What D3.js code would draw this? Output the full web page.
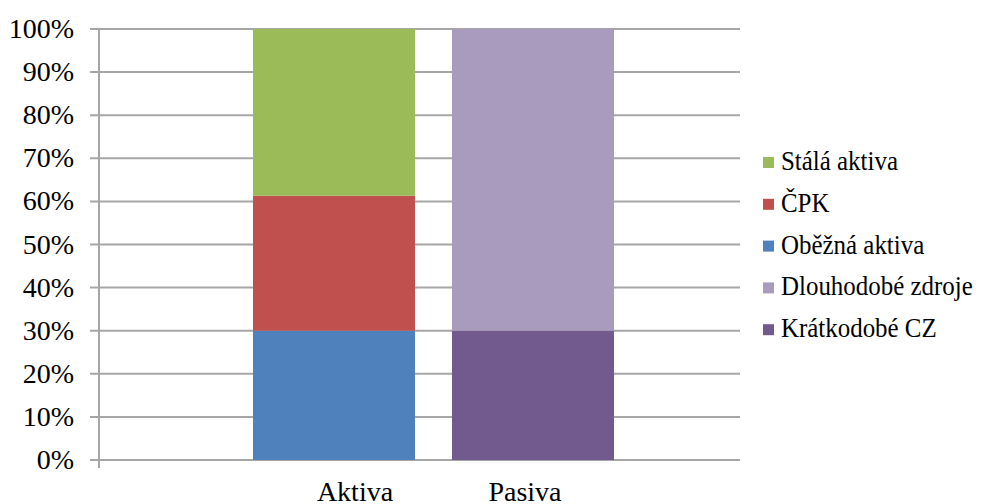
<!DOCTYPE html>
<html>
<head>
<meta charset="utf-8">
<script src="https://cdn.jsdelivr.net/npm/d3@7"></script>
<style>
  body { margin: 0; background: #fff; }
</style>
</head>
<body>
<div id="chart"></div>
<script>
// categories and stacked series (share of the balance, %)
var categories = ["Aktiva", "Pasiva"];
var seriesNames = ["Oběžná aktiva", "ČPK", "Stálá aktiva", "Krátkodobé CZ", "Dlouhodobé zdroje"];
var aktivaValues = [30, 31.3, 38.7, 0, 0];
var pasivaValues = [0, 0, 0, 30, 70];
var seriesColors = ["#4F81BD", "#C0504D", "#9BBB59", "#72598E", "#A99BBE"];
var legendOrder = ["Stálá aktiva", "ČPK", "Oběžná aktiva", "Dlouhodobé zdroje", "Krátkodobé CZ"];
var yTicks = [0, 10, 20, 30, 40, 50, 60, 70, 80, 90, 100];

var fontFamily = "Liberation Serif";

var svgWidth = 982, svgHeight = 504;
var margin = { top: 29, right: 242, bottom: 44, left: 99 };
var width = svgWidth - margin.left - margin.right;
var height = svgHeight - margin.top - margin.bottom;

var svg = d3.select("#chart")
  .append("svg")
  .attr("width", svgWidth)
  .attr("height", svgHeight);

var chartGroup = svg.append("g")
  .attr("transform", `translate(${margin.left}, ${margin.top})`);

// build table for d3.stack
var table = categories.map(function(c, i) {
  var row = { category: c };
  var vals = i === 0 ? aktivaValues : pasivaValues;
  seriesNames.forEach(function(s, j) { row[s] = vals[j]; });
  return row;
});
var stacked = d3.stack().keys(seriesNames)(table);

var yScale = d3.scaleLinear().domain([0, 100]).range([height, 0]);

// bars sit off-centre in the plot, like the original
var xBars = d3.scaleBand()
  .domain(categories)
  .range([154, 515])
  .paddingInner(0.186)
  .paddingOuter(0);

var xLabels = d3.scalePoint()
  .domain(categories)
  .range([256, 426]);

var color = d3.scaleOrdinal().domain(seriesNames).range(seriesColors);

// gridlines
chartGroup.append("g")
  .selectAll("line")
  .data(yTicks)
  .enter()
  .append("line")
  .attr("x1", -9)
  .attr("x2", width)
  .attr("y1", d => yScale(d))
  .attr("y2", d => yScale(d))
  .attr("stroke", "#a6a6a6")
  .attr("stroke-width", 2);

// y axis line
chartGroup.append("line")
  .attr("x1", 0).attr("x2", 0)
  .attr("y1", 0).attr("y2", height + 8)
  .attr("stroke", "#a6a6a6")
  .attr("stroke-width", 2);

// y tick labels (baseline offset in px)
chartGroup.append("g")
  .selectAll("text")
  .data(yTicks)
  .enter()
  .append("text")
  .attr("x", -25)
  .attr("y", d => yScale(d) + 9)
  .attr("text-anchor", "end")
  .attr("font-family", fontFamily)
  .attr("font-size", 28)
  .attr("fill", "#000")
  .text(d => d + "%");

// stacked bars
chartGroup.selectAll(".layer")
  .data(stacked)
  .enter()
  .append("g")
  .attr("class", "layer")
  .attr("fill", d => color(d.key))
  .selectAll("rect")
  .data(d => d.filter(p => p[1] - p[0] > 0))
  .enter()
  .append("rect")
  .attr("x", d => xBars(d.data.category))
  .attr("width", xBars.bandwidth())
  .attr("y", d => yScale(d[1]))
  .attr("height", d => yScale(d[0]) - yScale(d[1]));

// category labels
chartGroup.append("g")
  .selectAll("text")
  .data(categories)
  .enter()
  .append("text")
  .attr("x", d => xLabels(d))
  .attr("y", height + 41)
  .attr("text-anchor", "middle")
  .attr("font-family", fontFamily)
  .attr("font-size", 28)
  .attr("fill", "#000")
  .text(d => d);

// legend
var legend = svg.append("g")
  .attr("transform", "translate(763, 162)");

var legendItems = legend.selectAll("g")
  .data(legendOrder)
  .enter()
  .append("g")
  .attr("transform", (d, i) => `translate(0, ${i * 41.8})`);

legendItems.append("rect")
  .attr("x", 0)
  .attr("y", -5)
  .attr("width", 11)
  .attr("height", 11)
  .attr("fill", d => color(d));

legendItems.append("text")
  .attr("x", 18)
  .attr("y", 8)
  .attr("font-family", fontFamily)
  .attr("font-size", 28)
  .attr("fill", "#000")
  .text(d => d)
  .each(function() {
    // squeeze to roughly the width of the original legend text
    var w = this.getComputedTextLength();
    d3.select(this)
      .attr("textLength", w * 0.89)
      .attr("lengthAdjust", "spacingAndGlyphs");
  });
</script>
</body>
</html>
